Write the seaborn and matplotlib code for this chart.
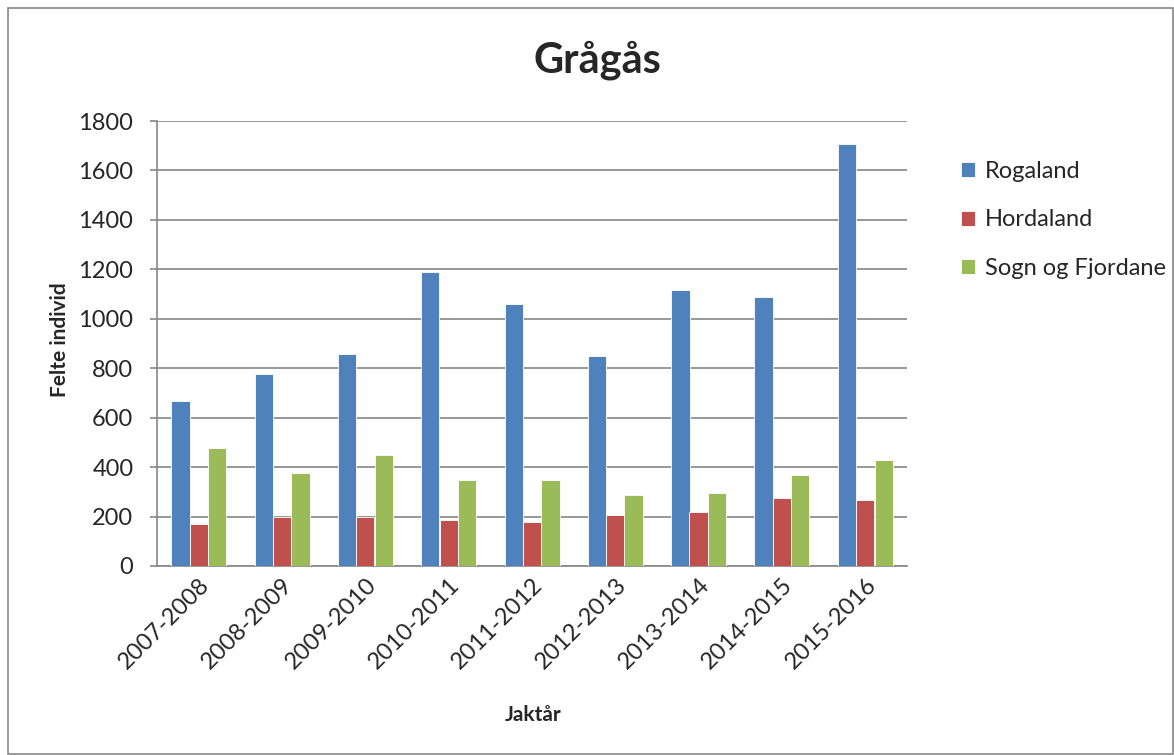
import pandas as pd
import seaborn as sns
import matplotlib.pyplot as plt
from matplotlib.patches import Rectangle
from matplotlib.ticker import MultipleLocator

# ------------------------------
# Data
# ------------------------------
seasons = ["2007-2008", "2008-2009", "2009-2010", "2010-2011", "2011-2012",
           "2012-2013", "2013-2014", "2014-2015", "2015-2016"]
regions = ["Rogaland", "Hordaland", "Sogn og Fjordane"]
rogaland = [668, 778, 858, 1188, 1058, 848, 1118, 1087, 1707]
hordaland = [168, 200, 200, 188, 178, 207, 218, 277, 268]
sogn = [477, 377, 448, 348, 348, 287, 297, 368, 428]

COLORS = ["#4F81BD", "#C0504D", "#9BBB59"]
GRID = "#868686"

df = pd.DataFrame({
    "season": seasons * 3,
    "region": [r for r in regions for _ in seasons],
    "value": rogaland + hordaland + sogn,
})

sns.set_theme(style="white")
plt.rcParams["font.family"] = ["Lato", "DejaVu Sans"]

W, H = 1174, 755
fig = plt.figure(figsize=(W / 100, H / 100), dpi=100)
ax = fig.add_axes([157 / W, 1 - 566 / H, 750 / W, 445 / H])

sns.barplot(
    data=df, x="season", y="value", hue="region",
    order=seasons, hue_order=regions, palette=COLORS, saturation=1,
    width=0.66, edgecolor="white", linewidth=0.6,
    errorbar=None, ax=ax, zorder=3
)

ax.set_xlim(-0.5, len(seasons) - 0.5)
ax.set_ylim(0, 1800)
ax.yaxis.set_major_locator(MultipleLocator(200))
ax.yaxis.grid(True, color=GRID, linewidth=1.2, zorder=0)
ax.set_axisbelow(True)

for side in ["top", "right"]:
    ax.spines[side].set_visible(False)
for side in ["left", "bottom"]:
    ax.spines[side].set_color(GRID)
    ax.spines[side].set_linewidth(1.2)

# ticks between categories like the original
ax.set_xticks([i - 0.5 for i in range(len(seasons) + 1)], minor=True)
ax.tick_params(axis="x", which="major", length=0, pad=6)
ax.tick_params(axis="x", which="minor", length=8, width=1.2, color=GRID)
ax.tick_params(axis="y", length=5, width=1.2, color=GRID, pad=12,
               left=True, labelsize=17)
ax.set_xticks(range(len(seasons)))
ax.set_xticklabels(seasons, rotation=45, ha="right", rotation_mode="anchor",
                   fontsize=17)

ax.set_xlabel("")
ax.set_ylabel("")
fig.text(60 / W, 1 - 340 / H, "Felte individ", rotation=90, fontsize=15,
         fontweight="bold", ha="center", va="center")
fig.text(533 / W, 1 - 715 / H, "Jaktår", fontsize=15, fontweight="bold",
         ha="center", va="center")
fig.text(597 / W, 1 - 60 / H, "Grågås", fontsize=30, fontweight="bold",
         ha="center", va="center")

handles, labels = ax.get_legend_handles_labels()
ax.legend(
    handles, labels, loc="upper left", frameon=False,
    bbox_to_anchor=(940 / W, 1 - 140 / H), bbox_transform=fig.transFigure,
    fontsize=17, handlelength=0.6, handleheight=0.6, handletextpad=0.4,
    labelspacing=1.15
)

fig.patches.append(Rectangle((8 / W, 1 / H), 1 - 9 / W, 1 - 9 / H,
                             transform=fig.transFigure, fill=False,
                             edgecolor=GRID, linewidth=1.2))

fig.savefig("out.png", dpi=100)
